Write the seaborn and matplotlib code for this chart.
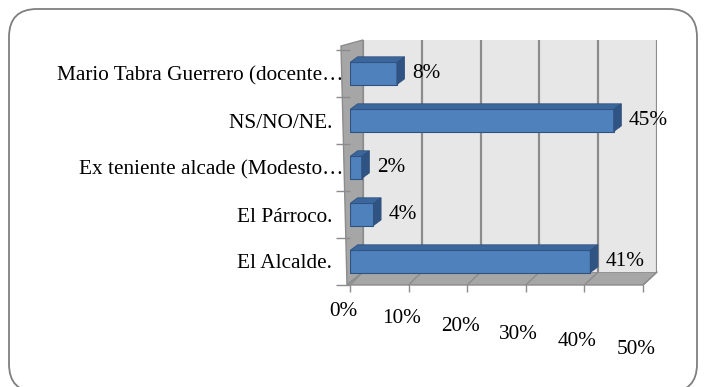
"""
Horizontal bar chart (Excel-style 3D look) of who is considered the local authority.
"""
import matplotlib
matplotlib.use('Agg')
import matplotlib.pyplot as plt
from matplotlib.patches import Polygon, FancyBboxPatch
from matplotlib.transforms import ScaledTranslation
import seaborn as sns
import pandas as pd

# Data (top to bottom as shown in the chart)
categories = [
    'Mario Tabra Guerrero (docente…',
    'NS/NO/NE.  ',
    'Ex teniente alcade (Modesto…',
    'El Párroco.  ',
    'El Alcalde.  ',
]
values = [8, 45, 2, 4, 41]
x_ticks = [0, 10, 20, 30, 40, 50]
x_tick_labels = ['0%', '10%', '20%', '30%', '40%', '50%']

W, H = 705, 387
FRONT = (350, 50, 643, 285)   # left, top, right, bottom in pixels
BACK = (363, 40, 657, 272)

FACE = '#4f81bd'
TOP = '#3c679c'
SIDE = '#2f5383'
EDGE = '#30527f'
WALL = '#a6a6a6'
LINE = '#8c8c8c'
FS = 15.3


def px_box(box):
    l, t, r, b = box
    return [l / W, 1 - b / H, (r - l) / W, (b - t) / H]


def main():
    sns.set_theme(style='white')
    plt.rcParams['font.family'] = ['Liberation Serif', 'DejaVu Serif']
    plt.rcParams['text.color'] = 'black'
    plt.rcParams['xtick.labelcolor'] = 'black'
    plt.rcParams['ytick.labelcolor'] = 'black'

    fig = plt.figure(figsize=(W / 100, H / 100), dpi=100)

    # background layer in pixel coordinates: frame, side wall, floor
    bg = fig.add_axes([0, 0, 1, 1], zorder=0)
    bg.set_xlim(0, W)
    bg.set_ylim(H, 0)
    bg.axis('off')
    bg.add_patch(FancyBboxPatch((9, 9), 688, 383,
                                boxstyle='round,pad=0,rounding_size=28',
                                facecolor='white', edgecolor='#7f7f7f', lw=1.3))

    fl, ft, fr, fb = FRONT
    bl, bt, br, bb = BACK
    # left side wall
    bg.add_patch(Polygon([(fl - 9, bt + 6), (bl, bt), (bl, bb), (fl - 3, fb)],
                         closed=True, facecolor=WALL, edgecolor=LINE, lw=1.0))
    # floor
    bg.add_patch(Polygon([(bl, bb), (br, bb), (fr, fb), (fl - 3, fb)],
                         closed=True, facecolor=WALL, edgecolor=LINE, lw=1.0))
    for v in x_ticks:
        xb = bl + (br - bl) * v / 50
        xf = fl + (fr - fl) * v / 50
        bg.plot([xb, xf], [bb, fb], color=LINE, lw=1.0)

    # back wall with gridlines
    axb = fig.add_axes(px_box(BACK), zorder=1)
    axb.set_facecolor('#e7e7e7')
    axb.set_xlim(0, 50)
    axb.set_ylim(0, 1)
    axb.set_xticks(x_ticks)
    axb.set_yticks([])
    axb.tick_params(length=0, labelbottom=False)
    axb.grid(axis='x', color=LINE, lw=1.6)
    for s in axb.spines.values():
        s.set_visible(False)

    # bars
    ax = fig.add_axes(px_box(FRONT), zorder=2)
    ax.set_facecolor('none')
    df = pd.DataFrame({'cat': categories, 'val': values})
    sns.barplot(data=df, x='val', y='cat', orient='h', color=FACE,
                saturation=1, width=0.47, edgecolor=EDGE, linewidth=0.8, ax=ax)

    dx, dy = 1.3, 0.12
    for p in list(ax.patches):
        x0, y0 = p.get_x(), p.get_y()
        w, h = p.get_width(), p.get_height()
        ax.add_patch(Polygon([(x0, y0), (x0 + w, y0), (x0 + w + dx, y0 - dy),
                              (x0 + dx, y0 - dy)], closed=True,
                             facecolor=TOP, edgecolor=EDGE, lw=0.6))
        ax.add_patch(Polygon([(x0 + w, y0), (x0 + w, y0 + h),
                              (x0 + w + dx, y0 + h - dy), (x0 + w + dx, y0 - dy)],
                             closed=True, facecolor=SIDE, edgecolor=EDGE, lw=0.6))

    for i, v in enumerate(values):
        ax.annotate(f'{v}%', xy=(v, i), xytext=(11, 0), textcoords='offset points',
                    ha='left', va='center', fontsize=FS, color='black')

    ax.set_xlim(0, 50)
    ax.set_ylim(len(categories) - 0.5, -0.5)
    ax.set_xlabel('')
    ax.set_ylabel('')
    ax.set_xticks(x_ticks)
    ax.set_xticklabels(x_tick_labels, fontsize=FS)
    ax.set_yticks(range(len(categories)))
    ax.set_yticklabels(categories, fontsize=FS)
    ax.set_yticks([i - 0.5 for i in range(len(categories) + 1)], minor=True)
    ax.tick_params(axis='y', which='major', length=0, pad=5)
    ax.tick_params(axis='y', which='minor', length=10, color=LINE, width=1, left=True)
    ax.tick_params(axis='x', length=5, color=LINE, width=1, bottom=True, pad=2)
    for s in ax.spines.values():
        s.set_visible(False)

    # stagger x tick labels like the perspective floor
    for k, lab in enumerate(ax.get_xticklabels()):
        shift = ScaledTranslation(-7 / 100, -(7 + 7.6 * k) / 100, fig.dpi_scale_trans)
        lab.set_transform(lab.get_transform() + shift)

    fig.savefig('out.png', dpi=100)
    plt.close(fig)


if __name__ == '__main__':
    main()
